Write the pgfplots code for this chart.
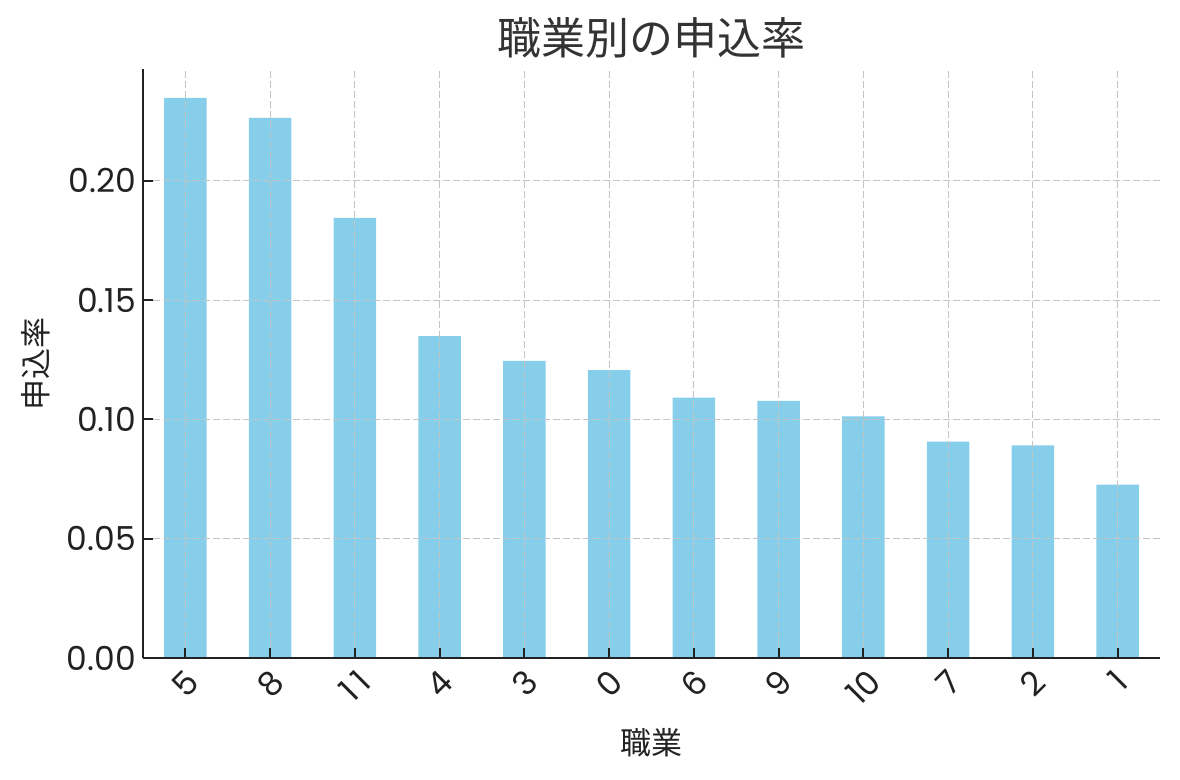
\documentclass[border=0pt]{standalone}
\usepackage{fontspec}
\setmainfont{Noto Sans CJK JP}
\newfontfamily\tickfont{Poppins}
\usepackage{graphicx}
\usepackage{pgfplots}
\pgfplotsset{compat=1.18}
\definecolor{skyblue}{HTML}{87CEEB}
\definecolor{gridc}{HTML}{C4C4C4}
\definecolor{spine}{HTML}{222222}
\definecolor{titlec}{HTML}{333333}
\begin{document}
\begin{tikzpicture}
\path[use as bounding box] (-71.5bp,-60.85bp) rectangle (518.5bp,329.15bp);
\begin{axis}[
  scale only axis,
  width=508.5bp, height=294.5bp,
  xmin=-0.5, xmax=11.5,
  ymin=0, ymax=0.2466,
  axis lines*=left,
  axis line style={spine, line width=1bp},
  tick style={spine, line width=1bp},
  tick align=inside,
  major tick length=5bp,
  axis on top,
  grid=major,
  major grid style={gridc, line width=0.5bp, dash pattern=on 3.5bp off 1.5bp},
  xtick={0,1,2,3,4,5,6,7,8,9,10,11},
  xticklabels={\rotatebox{45}{5},\rotatebox{45}{8},\rotatebox{45}{1\,1},\rotatebox{45}{4},\rotatebox{45}{3},\rotatebox{45}{0},\rotatebox{45}{6},\rotatebox{45}{9},\rotatebox{45}{10},\rotatebox{45}{7},\rotatebox{45}{2},\rotatebox{45}{1}},
  xticklabel style={anchor=north, inner sep=2bp, yshift=-2.5bp, text=spine, font=\tickfont\fontsize{16.5bp}{19bp}\selectfont},
  ytick={0,0.05,0.10,0.15,0.20},
  yticklabel style={text=spine, font=\tickfont\fontsize{16.5bp}{19bp}\selectfont, /pgf/number format/.cd, fixed, fixed zerofill, precision=2, assume math mode=true},
  title={職業別の申込率},
  title style={at={(axis description cs:0.5,1)}, anchor=center, yshift=10bp, text=titlec, font=\fontsize{22bp}{26bp}\selectfont},
  xlabel={職業},
  xlabel style={at={(axis description cs:0.5,-0.1426)}, anchor=center, text=spine, font=\fontsize{15.5bp}{18bp}\selectfont},
  ylabel={申込率},
  ylabel style={at={(axis description cs:-0.1052,0.5)}, anchor=center, text=spine, font=\fontsize{15.5bp}{18bp}\selectfont},
]
\addplot[ybar, bar width=0.5, fill=skyblue, draw=none, bar shift=0pt] coordinates {
  (0,0.2346) (1,0.2263) (2,0.1844) (3,0.1349) (4,0.1245) (5,0.1207)
  (6,0.1091) (7,0.1078) (8,0.1013) (9,0.0907) (10,0.0891) (11,0.0727)
};
\end{axis}
\end{tikzpicture}
\end{document}
